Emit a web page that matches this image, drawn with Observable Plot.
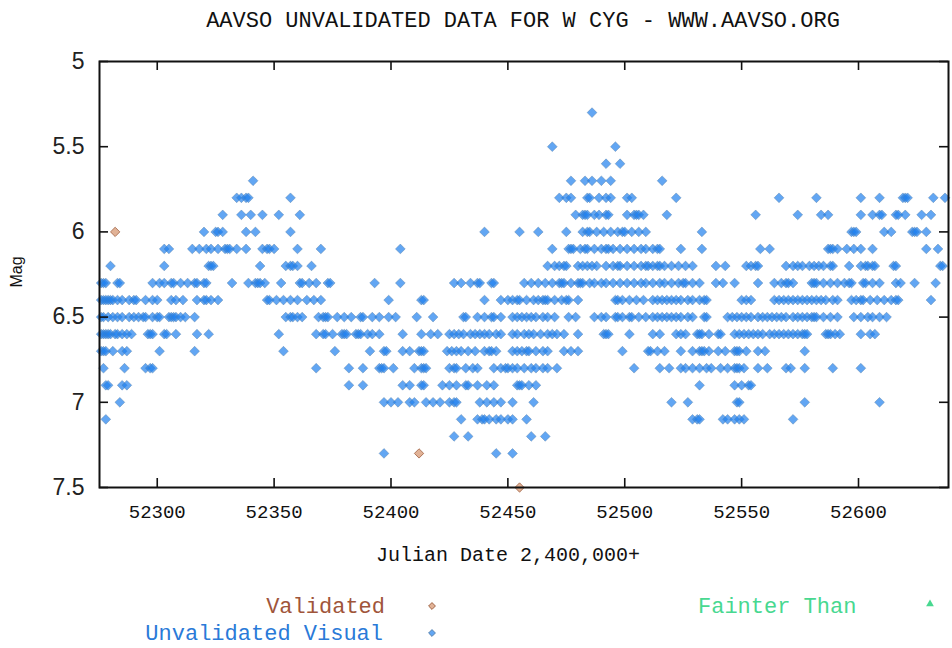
<!DOCTYPE html>
<html>
<head>
<meta charset="utf-8">
<script src="https://cdn.jsdelivr.net/npm/d3@7"></script>
<script src="https://cdn.jsdelivr.net/npm/@observablehq/plot@0.6"></script>
<style>
  body { margin: 0; background: #fff; }
  #wrap { position: relative; width: 952px; height: 648px; overflow: hidden; background: #fff; }
  #wrap > svg.plot { position: absolute; left: 0; top: 0; }
  .lbl { position: absolute; white-space: nowrap; font-family: "Liberation Mono", "DejaVu Sans Mono", monospace; color: #111; line-height: 1; }
  .sym { position: absolute; }
</style>
</head>
<body>
<div id="wrap"></div>
<script>
// Light curve of W Cyg: visual estimates grouped by magnitude (0.1 mag steps),
// each row listing the Julian Dates (2,400,000+) of the estimates at that magnitude.
const magnitudes = [5.3, 5.5, 5.6, 5.7, 5.8, 5.9, 6.0, 6.1, 6.2, 6.3, 6.4, 6.5, 6.6, 6.7, 6.8, 6.9, 7.0, 7.1, 7.2, 7.3];

const visualDates = [
  [52486],
  [52469, 52496],
  [52492, 52498],
  [52341, 52477, 52483, 52486, 52490, 52494, 52516],
  [52334, 52336, 52338, 52339, 52357, 52472, 52475, 52477, 52484, 52485, 52489, 52492, 52494, 52501, 52503, 52522, 52566, 52582, 52601, 52609, 52619, 52620, 52621, 52632, 52637],
  [52328, 52336, 52340, 52345, 52352, 52361, 52479, 52482, 52483, 52484, 52487, 52489, 52492, 52493, 52501, 52504, 52505, 52506, 52508, 52518, 52556, 52574, 52584, 52587, 52601, 52606, 52609, 52610, 52616, 52617, 52620, 52627, 52631],
  [52320, 52325, 52326, 52328, 52338, 52342, 52357, 52440, 52455, 52463, 52475, 52482, 52484, 52485, 52488, 52491, 52494, 52497, 52499, 52500, 52503, 52506, 52509, 52533, 52597, 52598, 52599, 52611, 52614, 52623, 52624, 52625, 52629],
  [52303, 52305, 52315, 52318, 52321, 52323, 52326, 52329, 52330, 52331, 52334, 52338, 52345, 52347, 52348, 52350, 52360, 52370, 52404, 52469, 52476, 52477, 52478, 52481, 52483, 52484, 52487, 52490, 52492, 52493, 52495, 52498, 52501, 52504, 52507, 52509, 52512, 52514, 52515, 52524, 52533, 52558, 52562, 52587, 52588, 52589, 52591, 52595, 52598, 52601, 52606, 52629, 52634],
  [52280, 52303, 52322, 52323, 52324, 52344, 52355, 52357, 52358, 52360, 52366, 52467, 52470, 52472, 52474, 52475, 52480, 52482, 52484, 52486, 52488, 52492, 52495, 52497, 52498, 52501, 52504, 52507, 52509, 52510, 52512, 52514, 52515, 52517, 52520, 52523, 52526, 52529, 52539, 52543, 52552, 52554, 52556, 52557, 52569, 52572, 52574, 52576, 52579, 52581, 52583, 52585, 52588, 52589, 52596, 52601, 52603, 52604, 52606, 52607, 52615, 52616, 52635, 52636],
  [52276, 52277, 52278, 52283, 52284, 52298, 52301, 52303, 52306, 52307, 52310, 52313, 52316, 52317, 52320, 52321, 52332, 52339, 52342, 52343, 52344, 52346, 52353, 52361, 52362, 52365, 52368, 52373, 52374, 52393, 52404, 52427, 52430, 52434, 52437, 52438, 52443, 52444, 52457, 52460, 52463, 52466, 52469, 52472, 52473, 52474, 52477, 52480, 52481, 52482, 52485, 52487, 52490, 52492, 52495, 52498, 52501, 52504, 52507, 52509, 52512, 52515, 52517, 52520, 52523, 52525, 52526, 52529, 52532, 52539, 52542, 52547, 52557, 52564, 52567, 52569, 52570, 52572, 52580, 52581, 52582, 52585, 52588, 52591, 52594, 52596, 52597, 52602, 52603, 52606, 52609, 52616, 52618, 52624, 52633],
  [52276, 52277, 52278, 52279, 52280, 52281, 52283, 52285, 52288, 52290, 52291, 52295, 52298, 52300, 52306, 52308, 52311, 52317, 52320, 52321, 52323, 52326, 52347, 52348, 52351, 52354, 52357, 52360, 52364, 52367, 52370, 52399, 52413, 52414, 52440, 52447, 52450, 52452, 52454, 52455, 52458, 52461, 52463, 52465, 52466, 52467, 52470, 52473, 52475, 52476, 52480, 52496, 52497, 52499, 52502, 52505, 52508, 52512, 52514, 52516, 52518, 52520, 52522, 52524, 52527, 52529, 52532, 52534, 52535, 52550, 52552, 52554, 52564, 52566, 52568, 52570, 52572, 52574, 52576, 52578, 52580, 52582, 52584, 52586, 52589, 52591, 52597, 52599, 52601, 52602, 52605, 52608, 52611, 52614, 52616, 52617, 52631],
  [52276, 52277, 52279, 52281, 52283, 52285, 52288, 52290, 52292, 52294, 52295, 52298, 52300, 52301, 52305, 52306, 52307, 52308, 52310, 52312, 52316, 52355, 52357, 52358, 52360, 52362, 52369, 52371, 52372, 52373, 52377, 52380, 52383, 52387, 52388, 52392, 52395, 52399, 52402, 52411, 52418, 52431, 52432, 52437, 52440, 52443, 52444, 52447, 52452, 52454, 52456, 52458, 52460, 52462, 52465, 52467, 52470, 52476, 52479, 52487, 52490, 52492, 52496, 52497, 52499, 52502, 52503, 52506, 52509, 52512, 52514, 52516, 52518, 52520, 52522, 52524, 52527, 52529, 52534, 52535, 52544, 52546, 52548, 52550, 52552, 52554, 52557, 52559, 52561, 52563, 52565, 52567, 52569, 52572, 52574, 52576, 52578, 52580, 52581, 52582, 52585, 52588, 52591, 52598, 52601, 52604, 52606, 52609, 52612],
  [52276, 52277, 52278, 52279, 52280, 52282, 52283, 52285, 52287, 52289, 52296, 52297, 52298, 52303, 52304, 52308, 52317, 52322, 52352, 52368, 52371, 52372, 52375, 52379, 52380, 52381, 52385, 52386, 52387, 52390, 52392, 52395, 52405, 52413, 52417, 52420, 52425, 52427, 52429, 52431, 52434, 52436, 52438, 52440, 52442, 52445, 52447, 52452, 52454, 52457, 52459, 52461, 52464, 52467, 52469, 52471, 52474, 52480, 52491, 52492, 52493, 52502, 52512, 52515, 52522, 52524, 52526, 52531, 52532, 52533, 52536, 52540, 52541, 52547, 52549, 52551, 52553, 52555, 52557, 52559, 52562, 52564, 52566, 52568, 52570, 52572, 52574, 52576, 52577, 52578, 52586, 52587, 52588, 52590, 52592, 52601, 52605, 52607],
  [52276, 52277, 52278, 52281, 52285, 52287, 52301, 52316, 52354, 52376, 52391, 52397, 52398, 52405, 52408, 52412, 52413, 52414, 52424, 52426, 52428, 52430, 52433, 52436, 52440, 52442, 52443, 52445, 52452, 52454, 52456, 52458, 52459, 52462, 52465, 52467, 52474, 52477, 52480, 52499, 52510, 52511, 52514, 52517, 52524, 52529, 52532, 52533, 52534, 52536, 52540, 52543, 52547, 52548, 52549, 52552, 52557, 52560, 52577],
  [52277, 52286, 52295, 52297, 52298, 52368, 52382, 52388, 52395, 52396, 52397, 52401, 52410, 52413, 52414, 52415, 52425, 52427, 52428, 52432, 52435, 52437, 52444, 52447, 52449, 52450, 52452, 52454, 52457, 52460, 52462, 52465, 52467, 52471, 52504, 52515, 52519, 52524, 52526, 52529, 52532, 52535, 52537, 52541, 52544, 52547, 52548, 52549, 52551, 52557, 52561, 52569, 52571, 52577, 52589, 52601],
  [52278, 52279, 52285, 52287, 52382, 52388, 52405, 52408, 52413, 52414, 52422, 52425, 52428, 52432, 52433, 52437, 52441, 52444, 52454, 52455, 52456, 52459, 52462, 52532, 52547, 52550, 52553, 52554],
  [52284, 52397, 52400, 52403, 52408, 52410, 52415, 52418, 52421, 52425, 52427, 52428, 52438, 52441, 52444, 52447, 52452, 52461, 52520, 52527, 52548, 52549, 52577, 52609],
  [52278, 52430, 52437, 52439, 52440, 52442, 52445, 52447, 52450, 52452, 52458, 52529, 52531, 52532, 52542, 52544, 52547, 52549, 52551, 52572],
  [52427, 52433, 52460, 52466],
  [52397, 52445, 52452]
];

// Validated observations
const validatedJD = [52282, 52412, 52455];
const validatedMag = [6.0, 7.3, 7.5];

// Axes
const xDomain = [52275.3, 52638.5];
const yDomain = [5, 7.5];
const xTicks = [52300, 52350, 52400, 52450, 52500, 52550, 52600];
const yTicks = [5, 5.5, 6, 6.5, 7, 7.5];

const titleText = "AAVSO UNVALIDATED DATA FOR W CYG - WWW.AAVSO.ORG";
const xLabel = "Julian Date 2,400,000+";
const yLabel = "Mag";
const legendItems = ["Validated", "Unvalidated Visual", "Fainter Than"];

// Flatten into point records
const visual = magnitudes.flatMap((mag, i) => visualDates[i].map(jd => ({jd, mag})));
const validated = validatedJD.map((jd, i) => ({jd, mag: validatedMag[i]}));

const W = 952, H = 648;
const margin = {top: 61, right: 4, bottom: 161, left: 99};
const innerW = W - margin.left - margin.right;
const innerH = H - margin.top - margin.bottom;
const tickLen = 9;
const ink = "#111";

const blue = {fill: "#1f80ee", stroke: "#557fa8"};
const brown = {fill: "#c8733f", stroke: "#9a5a3a"};

const chart = Plot.plot({
  width: W,
  height: H,
  marginTop: margin.top,
  marginRight: margin.right,
  marginBottom: margin.bottom,
  marginLeft: margin.left,
  style: {background: "transparent", overflow: "visible"},
  x: {domain: xDomain},
  y: {domain: yDomain, reverse: true},
  marks: [
    Plot.dot(visual, {
      x: "jd", y: "mag", symbol: "diamond2", r: 4.4,
      fill: blue.fill, fillOpacity: 0.7,
      stroke: blue.stroke, strokeOpacity: 0.55, strokeWidth: 0.8
    }),
    Plot.dot(validated, {
      x: "jd", y: "mag", symbol: "diamond2", r: 4.2,
      fill: brown.fill, fillOpacity: 0.55,
      stroke: brown.stroke, strokeOpacity: 0.85, strokeWidth: 0.9
    }),
    // inward ticks on all four sides
    Plot.tickX(xTicks, {x: d => d, insetTop: innerH - tickLen, stroke: ink, strokeWidth: 1.6}),
    Plot.tickX(xTicks, {x: d => d, insetBottom: innerH - tickLen, stroke: ink, strokeWidth: 1.6}),
    Plot.tickY(yTicks, {y: d => d, insetRight: innerW - tickLen, stroke: ink, strokeWidth: 1.6}),
    Plot.tickY(yTicks, {y: d => d, insetLeft: innerW - tickLen, stroke: ink, strokeWidth: 1.6}),
    Plot.axisX(xTicks, {
      tickSize: 0, tickPadding: 17, label: null, tickFormat: d => String(d),
      fontFamily: "Liberation Mono, DejaVu Sans Mono, monospace", fontSize: 19, fill: ink
    }),
    Plot.axisY(yTicks, {
      tickSize: 0, tickPadding: 15, label: null, tickFormat: d => String(d),
      fontFamily: "Liberation Sans, Arial, sans-serif", fontSize: 23, fill: "#222"
    }),
    Plot.frame({stroke: ink, strokeWidth: 2})
  ]
});
chart.classList.add("plot");

const wrap = document.getElementById("wrap");
wrap.appendChild(chart);

function addLabel(text, css) {
  const d = document.createElement("div");
  d.className = "lbl";
  d.textContent = text;
  Object.assign(d.style, css);
  wrap.appendChild(d);
  return d;
}

// Title
addLabel(titleText, {left: "523px", top: "22px", fontSize: "22px", transform: "translate(-50%, -50%)"});
// Axis titles
addLabel(xLabel, {left: "508px", top: "556px", fontSize: "20px", transform: "translate(-50%, -50%)"});
addLabel(yLabel, {left: "17px", top: "272px", fontSize: "16px", fontFamily: "Liberation Sans, Arial, sans-serif", transform: "translate(-50%, -50%) rotate(-90deg)"});

// Legend
addLabel(legendItems[0], {right: (W - 385) + "px", top: "608px", fontSize: "22px", color: "#a0553a", transform: "translateY(-50%)"});
addLabel(legendItems[1], {right: (W - 383) + "px", top: "635px", fontSize: "22px", color: "#2a7ad8", transform: "translateY(-50%)"});
addLabel(legendItems[2], {left: "698px", top: "608px", fontSize: "22px", color: "#48d890", transform: "translateY(-50%)"});

function addSymbol(cx, cy, pathD, style, opacity) {
  const s = d3.select(wrap).append("svg")
    .attr("class", "sym")
    .attr("width", 14).attr("height", 14)
    .style("left", (cx - 7) + "px").style("top", (cy - 7) + "px");
  s.append("path")
    .attr("transform", "translate(7,7)")
    .attr("d", pathD)
    .attr("fill", style.fill).attr("fill-opacity", opacity)
    .attr("stroke", style.stroke).attr("stroke-width", 0.9);
}
const legendDiamond = d3.symbol(d3.symbolDiamond2, 30)();
const legendTriangle = d3.symbol(d3.symbolTriangle, 26)();
addSymbol(432, 606, legendDiamond, brown, 0.55);
addSymbol(432, 633, legendDiamond, blue, 0.7);
addSymbol(930, 604, legendTriangle, {fill: "#48d890", stroke: "none"}, 1);
</script>
</body>
</html>
